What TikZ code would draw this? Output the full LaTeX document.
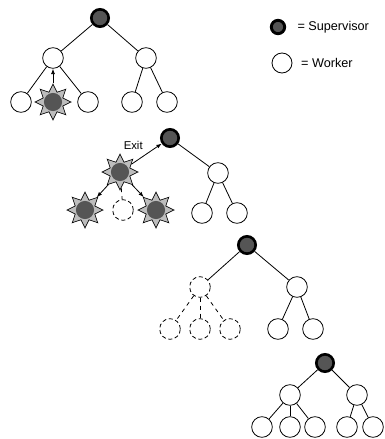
\documentclass[tikz,border=0pt]{standalone}
\usepackage{fontspec}
\setmainfont{Liberation Sans}
\usepackage{tikz}
\usetikzlibrary{shapes.geometric,arrows.meta,positioning}
\definecolor{core}{HTML}{555555}
\definecolor{ray}{HTML}{BDBDBD}

\begin{document}
\begin{tikzpicture}[x=0.75pt,y=-0.75pt,font=\fontsize{9.5}{11}\selectfont,
  wrk/.style={draw,circle,inner sep=0pt,minimum size=15.5pt,line width=0.6pt},
  sup/.style={draw,circle,inner sep=0pt,minimum size=13pt,line width=2pt,fill=core},
  gone/.style={wrk,dashed,dash pattern=on 3pt off 2pt},
  fail/.style={draw,star,star points=8,star point ratio=1.7,inner sep=0pt,minimum size=27pt,
    line width=0.5pt,fill=ray,
    path picture={\fill[core] (path picture bounding box.center) circle (6.8pt);}},
  edge/.style={line width=0.6pt},
  arr/.style={-{Latex[length=4pt,width=3pt]},line width=0.6pt}]
\useasboundingbox (0,0) rectangle (385,439);

% legend
\node[sup,minimum size=10pt,line width=2.2pt] (ls) at (278,27) {};
\node[right=5pt of ls] {= Supervisor};
\node[wrk,minimum size=15pt] (lw) at (282,63) {};
\node[right=3pt of lw] {= Worker};

% tree 1: a worker fails
\node[sup] (as) at (100,18) {};
\node[wrk] (a1) at (53,58) {};
\node[wrk] (a2) at (146,58) {};
\node[wrk] (a11) at (21,102) {};
\node[fail] (a12) at (53,102) {};
\node[wrk] (a13) at (88,102) {};
\node[wrk] (a21) at (132,102) {};
\node[wrk] (a22) at (167,102) {};
\draw[edge] (as) -- (a1);
\draw[edge] (as) -- (a2);
\draw[edge] (a1) -- (a11);
\draw[edge] (a1) -- (a13);
\draw[edge] (a2) -- (a21);
\draw[edge] (a2) -- (a22);
\draw[arr] (a12) -- (a1);

% tree 2: supervisor exits
\node[sup] (bs) at (170,138) {};
\node[fail] (b1) at (120,172) {};
\node[wrk] (b2) at (218,173) {};
\node[fail] (b11) at (85,210) {};
\node[gone] (b12) at (123,210) {};
\node[fail] (b13) at (156,210) {};
\node[wrk] (b21) at (202,213) {};
\node[wrk] (b22) at (237,213) {};
\draw[arr] (b1) -- node[above left=-1pt,font=\fontsize{8.5}{10}\selectfont] {Exit} (bs);
\draw[edge] (bs) -- (b2);
\draw[arr] (b1) -- (b11);
\draw[edge,dashed] (b1) -- (b12);
\draw[arr] (b1) -- (b13);
\draw[edge] (b2) -- (b21);
\draw[edge] (b2) -- (b22);

% tree 3: subtree removed
\node[sup] (cs) at (247,245) {};
\node[gone] (c1) at (200,287) {};
\node[wrk] (c2) at (297,287) {};
\node[gone] (c11) at (170,329) {};
\node[gone] (c12) at (200,329) {};
\node[gone] (c13) at (230,329) {};
\node[wrk] (c21) at (278,329) {};
\node[wrk] (c22) at (313,329) {};
\draw[edge] (cs) -- (c1);
\draw[edge] (cs) -- (c2);
\draw[edge,dashed] (c1) -- (c11);
\draw[edge,dashed] (c1) -- (c12);
\draw[edge,dashed] (c1) -- (c13);
\draw[edge] (c2) -- (c21);
\draw[edge] (c2) -- (c22);

% tree 4: restarted
\node[sup] (ds) at (325,363) {};
\node[wrk] (d1) at (290,395) {};
\node[wrk] (d2) at (357,395) {};
\node[wrk] (d11) at (262,427) {};
\node[wrk] (d12) at (290,427) {};
\node[wrk] (d13) at (315,427) {};
\node[wrk] (d21) at (347,427) {};
\node[wrk] (d22) at (373,427) {};
\draw[edge] (ds) -- (d1);
\draw[edge] (ds) -- (d2);
\draw[edge] (d1) -- (d11);
\draw[edge] (d1) -- (d12);
\draw[edge] (d1) -- (d13);
\draw[edge] (d2) -- (d21);
\draw[edge] (d2) -- (d22);
\end{tikzpicture}
\end{document}
